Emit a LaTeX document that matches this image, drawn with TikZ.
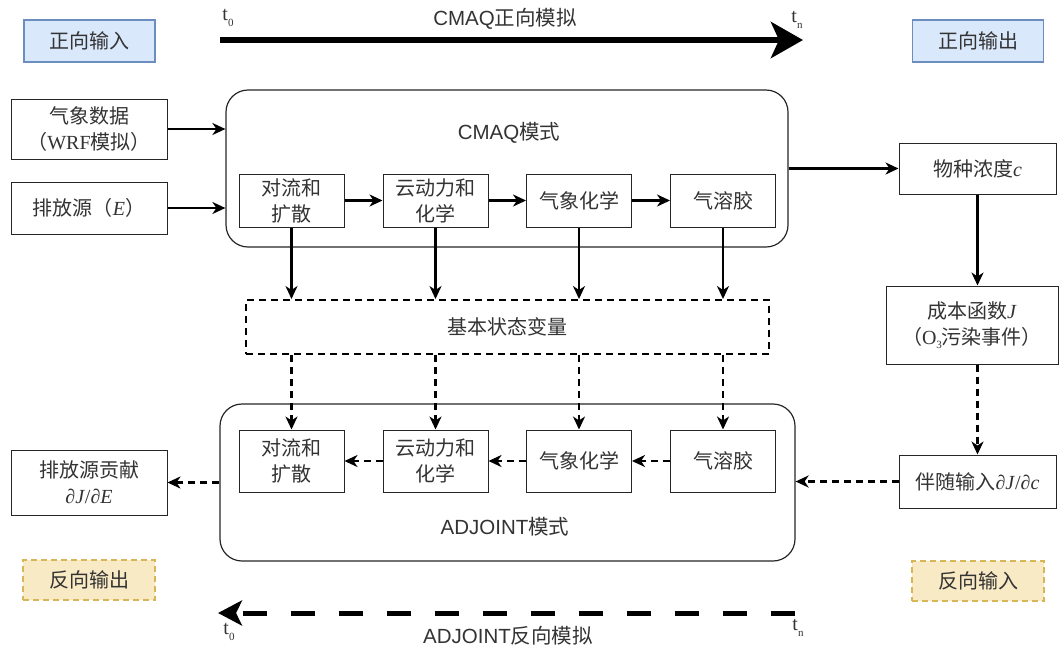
\documentclass[tikz,border=0pt]{standalone}
\usepackage{fontspec}
\setmainfont{Liberation Serif}
\newfontfamily\cjk{Noto Sans CJK SC}
\newfontfamily\arialf{Liberation Sans}
\usetikzlibrary{arrows.meta}
\definecolor{bluefill}{HTML}{DAE8FC}
\definecolor{blueline}{HTML}{6C8EBF}
\definecolor{yelfill}{HTML}{F8EAC4}
\definecolor{yelline}{HTML}{D6B656}
\definecolor{txt}{HTML}{333333}
\begin{document}
\begin{tikzpicture}[x=1pt,y=-1pt,
  box/.style={draw=black!85, line width=1pt, fill=white, align=center, text=txt, inner sep=1pt,
    font=\fontsize{20}{26}\selectfont},
  bluebox/.style={box, fill=bluefill, draw=blueline, line width=1.5pt, minimum width=131pt, minimum height=42pt},
  yelbox/.style={box, fill=yelfill, draw=yelline, line width=1.8pt, dash pattern=on 6pt off 4pt, minimum width=132pt, minimum height=40pt},
  inbox/.style={box, minimum width=105pt},
  frame/.style={draw=black!85, line width=1.2pt, rounded corners=22pt, fill=white},
  lbl/.style={text=txt, font=\arialf\fontsize{20.5}{22}\selectfont},
  tlbl/.style={text=txt, font=\fontsize{20}{20}\selectfont, inner sep=0pt},
  arr/.style={line width=2.2pt, -{Stealth[length=13pt,width=12pt,inset=4pt]}},
  darr/.style={arr, dash pattern=on 7pt off 5pt}
]
\useasboundingbox (0,0) rectangle (1062,649);

% legend boxes
\node[bluebox] (fin) at (89.5,41) {\cjk 正向输入};
\node[bluebox] (fout) at (978,41) {\cjk 正向输出};
\node[yelbox] (rout) at (89,580) {\cjk 反向输出};
\node[yelbox] (rin) at (978,581) {\cjk 反向输入};

% forward time arrow
\coordinate (ts) at (220,40);
\coordinate (te) at (803,40);
\draw[line width=6pt, -{Stealth[length=32pt,width=36pt,inset=8pt]}] (ts) -- (te);
\node[lbl] (fwdlbl) at (505,19) {CMAQ{\cjk 正向模拟}};
\node[tlbl] (ft0) at (228,18) {t\raisebox{-6pt}{\fontsize{11}{11}\selectfont 0}};
\node[tlbl] (ftn) at (797,20) {t\raisebox{-6pt}{\fontsize{11}{11}\selectfont n}};

% inputs
\node[box, minimum width=156pt, minimum height=60pt] (met) at (89,129) {{\cjk 气象数据}\\{\cjk （}WRF{\cjk 模拟）}};
\node[box, minimum width=156pt, minimum height=52pt] (emi) at (89,208) {{\cjk 排放源（}\textit{E}{\cjk ）}};

% CMAQ frame
\node[frame, minimum width=562pt, minimum height=157pt] (cmaq) at (507,168.5) {};
\node[lbl] (cmaqlbl) at (509,133) {CMAQ{\cjk 模式}};
\node[inbox, minimum height=53pt] (c1) at (291.5,200.5) {{\cjk 对流和}\\{\cjk 扩散}};
\node[inbox, minimum height=53pt] (c2) at (435.5,200.5) {{\cjk 云动力和}\\{\cjk 化学}};
\node[inbox, minimum height=53pt] (c3) at (579,200.5) {\cjk 气象化学};
\node[inbox, minimum height=53pt] (c4) at (723,200.5) {\cjk 气溶胶};

% state variables
\node[box, draw=black, line width=2pt, dash pattern=on 7pt off 5pt, minimum width=523pt, minimum height=54pt] (state) at (507.5,327) {\cjk 基本状态变量};

% ADJOINT frame
\node[frame, minimum width=575pt, minimum height=157pt] (adj) at (507.5,482.5) {};
\node[lbl] (adjlbl) at (505,527) {ADJOINT{\cjk 模式}};
\node[inbox, minimum height=62pt] (a1) at (291.5,461) {{\cjk 对流和}\\{\cjk 扩散}};
\node[inbox, minimum height=62pt] (a2) at (435.5,461) {{\cjk 云动力和}\\{\cjk 化学}};
\node[inbox, minimum height=62pt] (a3) at (579,461) {\cjk 气象化学};
\node[inbox, minimum height=62pt] (a4) at (723,461) {\cjk 气溶胶};

% right column
\node[box, minimum width=157pt, minimum height=51pt] (conc) at (977.5,168.5) {{\cjk 物种浓度}\textit{c}};
\node[box, minimum width=172pt, minimum height=78pt] (cost) at (972,325) {{\cjk 成本函数}\textit{J}\\{\cjk （}O\raisebox{-4pt}{\fontsize{11}{11}\selectfont 3}{\cjk 污染事件）}};
\node[box, minimum width=157pt, minimum height=53pt] (adjin) at (977.5,481.5) {{\cjk 伴随输入}∂\textit{J}/∂\textit{c}};

% left output
\node[box, minimum width=156pt, minimum height=65pt] (contrib) at (89,482.5) {{\cjk 排放源贡献}\\∂\textit{J}/∂\textit{E}};

% backward time arrow
\coordinate (bs) at (795,613);
\coordinate (be) at (218,613);
\draw[line width=5pt, dash pattern=on 24pt off 24pt, -{Stealth[length=24pt,width=25pt,inset=6pt]}] (bs) -- (be);
\node[lbl] (bwdlbl) at (508,636) {ADJOINT{\cjk 反向模拟}};
\node[tlbl] (bt0) at (229,632) {t\raisebox{-6pt}{\fontsize{11}{11}\selectfont 0}};
\node[tlbl] (btn) at (798,628) {t\raisebox{-6pt}{\fontsize{11}{11}\selectfont n}};

% forward connectors
\draw[arr] (met.east) -- (met.east -| cmaq.west);
\draw[arr] (emi.east) -- (emi.east -| cmaq.west);
\draw[arr] (c1) -- (c2);
\draw[arr] (c2) -- (c3);
\draw[arr] (c3) -- (c4);
\draw[arr] (cmaq.east) -- (conc.west);
\draw[arr] (conc.south) -- (conc.south |- cost.north);
\foreach \i in {1,2,3,4}{
  \draw[arr] (c\i.south) -- (c\i.south |- state.north);
  \draw[darr] (c\i.south |- state.south) -- (a\i.north);
}

% adjoint connectors
\draw[darr] (conc.south |- cost.south) -- (conc.south |- adjin.north);
\draw[darr] (adjin.west) -- (adjin.west -| adj.east);
\draw[darr] (a4) -- (a3);
\draw[darr] (a3) -- (a2);
\draw[darr] (a2) -- (a1);
\draw[darr] (adj.west |- contrib.east) -- (contrib.east);
\end{tikzpicture}
\end{document}
